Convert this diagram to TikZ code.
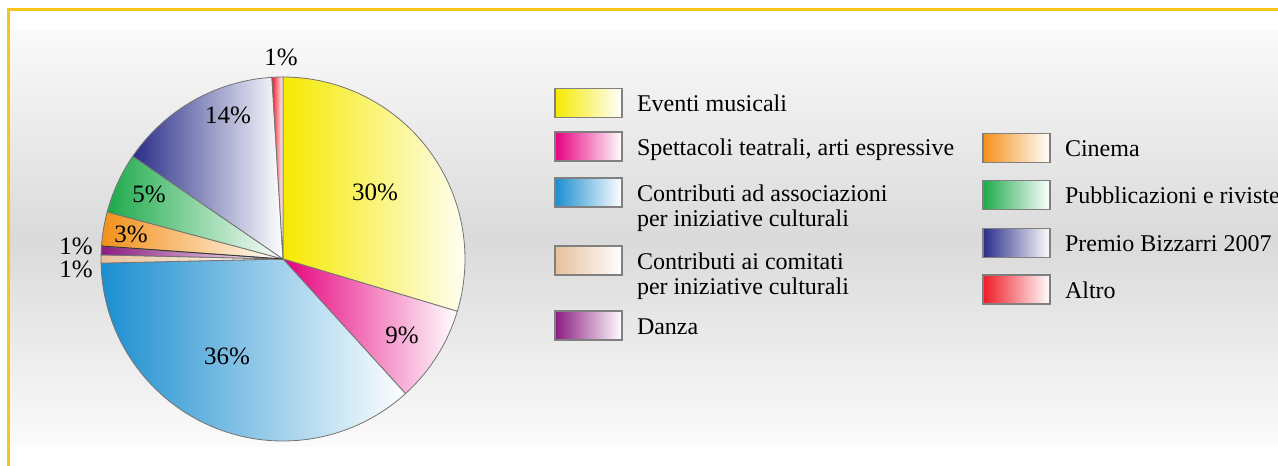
\documentclass[tikz,border=0pt]{standalone}
\usepackage{fontspec}
\setmainfont{Liberation Serif}
\definecolor{musyel}{HTML}{F5E900}
\definecolor{spetpink}{HTML}{E6007E}
\definecolor{assblue}{HTML}{1B8ED0}
\definecolor{comtan}{HTML}{E6C09A}
\definecolor{danpurp}{HTML}{8A1C80}
\definecolor{cinorange}{HTML}{F39019}
\definecolor{pubgreen}{HTML}{1DAA4A}
\definecolor{premnavy}{HTML}{2A2E88}
\definecolor{altred}{HTML}{EE1C25}
\definecolor{framegold}{HTML}{F8C61A}
\definecolor{bgtop}{HTML}{FAFAFA}
\definecolor{bgmid}{HTML}{DADADA}
\definecolor{bgbot}{HTML}{FBFBFB}
\tikzset{
  slice/.style={draw=black!55, line width=0.8pt, right color=white},
  legbox/.style={draw=black!50, line width=1.6pt, minimum width=67pt, minimum height=29pt, inner sep=0pt, right color=white},
  legtext/.style={anchor=base west, inner sep=0pt, font=\fontsize{24}{25}\selectfont},
  pct/.style={inner sep=0pt, font=\fontsize{25}{26}\selectfont}
}
\begin{document}
\begin{tikzpicture}[x=1pt, y=1pt]
\fill[white] (0,0) rectangle (1278,466);
\useasboundingbox (0,0) rectangle (1278,466);
\fill[top color=bgtop, bottom color=bgbot, middle color=bgmid] (10,19) rectangle (1278,435);
\draw[framegold, line width=3pt] (1278,456) -- (8,456) -- (8,0);

% pie
\coordinate (O) at (283,207);
\foreach \a/\b/\c in {-16.7/90/musyel, -47.7/-16.7/spetpink, -178.7/-47.7/assblue,
  178.7/181.3/comtan, 175.9/178.7/danpurp, 165/175.9/cinorange,
  145.6/165/pubgreen, 93.5/145.6/premnavy, 90/93.5/altred}
{
  \draw[slice, left color=\c] (O) -- ++(\a:182) arc[start angle=\a, end angle=\b, radius=182] -- cycle;
}
\draw[black!80, line width=0.8pt] (O) -- ++(175.9:182);
\foreach \x/\y/\t/\n in {375/274/30/mus, 402/131/9/spet, 227/110/36/ass, 228/351/14/prem,
  149/272/5/pub, 131/232/3/cin, 76/220/1/dan, 76/197/1/com, 281/409/1/alt}
{
  \node[pct] (p\n) at (\x,\y) {\t\%};
}

% legend
\foreach \x/\y/\c/\t/\n in {588.5/363/musyel/{Eventi musicali}/mus,
  588.5/319.5/spetpink/{Spettacoli teatrali, arti espressive}/spet,
  588.5/273.5/assblue/{\begin{tabular}[t]{@{}l@{}}Contributi ad associazioni\\per iniziative culturali\end{tabular}}/ass,
  588.5/205.5/comtan/{\begin{tabular}[t]{@{}l@{}}Contributi ai comitati\\per iniziative culturali\end{tabular}}/com,
  588.5/140.5/danpurp/{Danza}/dan,
  1016.5/318/cinorange/{Cinema}/cin,
  1016.5/271/pubgreen/{Pubblicazioni e riviste}/pub,
  1016.5/223/premnavy/{Premio Bizzarri 2007}/prem,
  1016.5/176.5/altred/{Altro}/alt}
{
  \node[legbox, left color=\c] (b\n) at (\x,\y) {};
  \node[legtext] (t\n) at ([xshift=14pt, yshift=-9pt]b\n.east) {\t};
}
\end{tikzpicture}
\end{document}
